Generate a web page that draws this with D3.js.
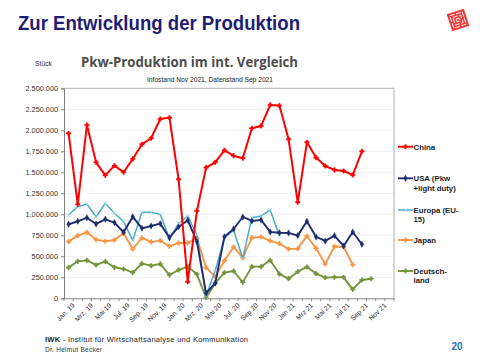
<!DOCTYPE html>
<html><head><meta charset="utf-8">
<script src="https://cdn.jsdelivr.net/npm/d3@7"></script>
<style>html,body{margin:0;padding:0;background:#fff;}svg{display:block;font-family:"Liberation Sans",Arial,sans-serif;}</style>
</head><body>
<svg id="c" width="480" height="360"></svg>
<script>
const months = ["Jan. 19","Feb. 19","Mrz. 19","Apr. 19","Mai 19","Jun. 19","Jul. 19","Aug. 19","Sep. 19","Okt. 19","Nov. 19","Dez. 19",
"Jan. 20","Feb. 20","Mrz. 20","Apr. 20","Mai 20","Jun. 20","Jul. 20","Aug. 20","Sep 20","Okt 20","Nov 20","Dez 20",
"Jan 21","Feb 21","Mrz 21","Apr 21","Mai 21","Jun 21","Jul 21","Aug 21","Sep 21","Okt 21","Nov 21","Dez 21"];
const yTicks = [0,250000,500000,750000,1000000,1250000,1500000,1750000,2000000,2250000,2500000];
const china = [1964,1119,2063,1619,1464,1579,1500,1659,1833,1905,2135,2151,1417,198,1040,1556,1619,1762,1698,1667,2024,2052,2302,2294,1893,1143,1857,1675,1575,1528,1516,1468,1750];
const usa = [881,917,960,885,940,901,786,972,833,861,889,722,850,930,675,60,180,734,825,968,921,933,790,781,778,746,917,730,683,746,623,789,643];
const europa = [992,1091,1123,968,1131,1012,913,690,1024,1024,1000,714,893,980,754,30,330,714,813,476,960,980,1052,742];
const japan = [675,746,786,698,679,694,774,587,718,671,687,619,659,659,718,365,258,448,611,484,722,730,683,651,587,591,742,595,409,617,614,400];
const deutschland = [365,440,452,397,437,369,349,306,413,389,409,278,337,377,286,10,180,306,325,190,377,377,452,290,234,317,373,294,246,250,250,107,218,233];
const seriesNames = [["China"],["USA (Pkw","+light duty)"],["Europa (EU-","15)"],["Japan"],["Deutsch-","land"]];
const seriesColors = ["#ff0000","#1f2d6e","#4bacc6","#f79646","#77933c"];

const series = [china,usa,europa,japan,deutschland].map((arr,k)=>({
  name: seriesNames[k], color: seriesColors[k],
  values: months.map((m,i)=> i<arr.length ? arr[i]*1000 : null)
}));

const svg = d3.select("#c");
const L=64,R=394,T=88.3,B=298.3;
const x = d3.scaleBand().domain(months).range([L,R]).padding(0);
const y = d3.scaleLinear().domain([0,2500000]).range([B,T]);
const de = d3.formatLocale({decimal:",",thousands:".",grouping:[3],currency:["","€"]});
const fmt = de.format(",");

// Titles
svg.append("text").attr("x",18).attr("y",30).attr("font-size",19.5).attr("font-weight","bold")
  .attr("fill","#1d1d74").attr("textLength",282).attr("lengthAdjust","spacingAndGlyphs")
  .text("Zur Entwicklung der Produktion");

// logo
const lg = svg.append("g").attr("transform","translate(458,20) rotate(-18)");
lg.append("rect").attr("x",-9).attr("y",-9).attr("width",18).attr("height",18).attr("fill","#ee3b3b");
[6.5,4,1.5].forEach(s=>lg.append("rect").attr("x",-s).attr("y",-s).attr("width",2*s).attr("height",2*s)
  .attr("fill","none").attr("stroke","#fff").attr("stroke-width",0.9).attr("stroke-dasharray","5 1.5"));

svg.append("text").attr("x",35).attr("y",66).attr("font-size",6.8).attr("fill","#333").text("Stück");
svg.append("text").attr("x",81).attr("y",67).attr("font-size",14.5).attr("font-weight","bold").attr("fill","#4d4d4d")
  .attr("font-family","'Open Sans',sans-serif").attr("textLength",217).attr("lengthAdjust","spacingAndGlyphs")
  .text("Pkw-Produktion im int. Vergleich");
svg.append("text").attr("x",147).attr("y",82.3).attr("font-size",6.8).attr("fill","#222")
  .attr("textLength",126).attr("lengthAdjust","spacingAndGlyphs")
  .text("Infostand Nov 2021, Datenstand Sep 2021");

// gridlines
svg.append("g").selectAll("line").data(yTicks.slice(1,-1)).join("line")
  .attr("x1",L).attr("x2",R).attr("y1",d=>y(d)).attr("y2",d=>y(d))
  .attr("stroke","#ececec").attr("stroke-width",0.8);
// frame top/right
svg.append("path").attr("d",`M${L},${T}H${R}V${B}`).attr("fill","none").attr("stroke","#b0b0b0").attr("stroke-width",1);

// y axis
const ya = svg.append("g").attr("transform",`translate(${L},0)`)
  .call(d3.axisLeft(y).tickValues(yTicks).tickFormat(fmt).tickSize(3).tickPadding(3));
ya.select(".domain").attr("stroke","#808080");
ya.selectAll(".tick line").attr("stroke","#808080");
ya.selectAll("text").attr("font-size",7.3).attr("fill","#333").attr("font-family","'Liberation Sans',Arial,sans-serif");

// x axis
const xa = svg.append("g").attr("transform",`translate(0,${B})`)
  .call(d3.axisBottom(x).tickValues(months.filter((m,i)=>i%2===0)).tickSize(0).tickPadding(3));
xa.select(".domain").attr("stroke","#808080");
xa.selectAll("text").attr("font-size",6.8).attr("fill","#333").attr("font-family","'Liberation Sans',Arial,sans-serif")
  .attr("text-anchor","end").attr("dy","0.3em").attr("transform","translate(3,4) rotate(-45)");
// tick marks at category boundaries
svg.append("g").selectAll("line").data(months.concat([null])).join("line")
  .attr("x1",(d,i)=>L+i*x.bandwidth()).attr("x2",(d,i)=>L+i*x.bandwidth())
  .attr("y1",B).attr("y2",B+3).attr("stroke","#808080").attr("stroke-width",0.8);

const line = d3.line().defined(d=>d.v!=null).x(d=>x(d.m)+x.bandwidth()/2).y(d=>y(d.v));
const symTypes = [d3.symbolCross,d3.symbolDiamond,d3.symbolTimes,d3.symbolCross,d3.symbolCross];
const lineW = [2,1.9,1.5,1.9,1.9];

// draw in reverse order so China is on top
[4,3,2,1,0].forEach(k=>{
  const s = series[k];
  const pts = s.values.map((v,i)=>({m:months[i],v}));
  const g = svg.append("g");
  g.append("path").datum(pts).attr("d",line).attr("fill","none").attr("stroke",s.color)
    .attr("stroke-width",lineW[k]).attr("stroke-linejoin","round");
  const sym = d3.symbol().type(symTypes[k]).size(k===2?14:12);
  g.selectAll("path.m").data(pts.filter(d=>d.v!=null)).join("path").attr("class","m")
    .attr("d",sym).attr("transform",d=>`translate(${x(d.m)+x.bandwidth()/2},${y(d.v)})`)
    .attr("fill",s.color).attr("stroke",k===2?"#9fd6e6":s.color).attr("stroke-width",k===2?0.8:0.3);
});

// legend
const legY = [146.7,178.3,210,240,271];
series.forEach((s,k)=>{
  const g = svg.append("g");
  g.append("line").attr("x1",398).attr("x2",413).attr("y1",legY[k]).attr("y2",legY[k])
    .attr("stroke",s.color).attr("stroke-width",lineW[k]);
  g.append("path").attr("d",d3.symbol().type(symTypes[k]).size(k===2?14:12)).attr("transform",`translate(405.5,${legY[k]})`)
    .attr("fill",s.color).attr("stroke",k===2?"#9fd6e6":s.color).attr("stroke-width",k===2?0.8:0.3);
  s.name.forEach((t,j)=>g.append("text").attr("x",413.5).attr("y",legY[k]+2.8+j*9.6)
    .attr("font-size",7.8).attr("font-weight","bold").attr("fill","#222").text(t));
});

// footer
const f = svg.append("text").attr("x",45).attr("y",342.3).attr("font-size",7.5).attr("fill","#222")
  .attr("textLength",203).attr("lengthAdjust","spacing");
f.append("tspan").attr("font-weight","bold").text("IWK");
f.append("tspan").text(" - Institut für Wirtschaftsanalyse und Kommunikation");
svg.append("text").attr("x",45).attr("y",351.7).attr("font-size",6.5).attr("fill","#333")
  .attr("textLength",57).attr("lengthAdjust","spacing").text("Dr. Helmut Becker");
svg.append("text").attr("x",451.5).attr("y",349.5).attr("font-size",10).attr("font-weight","bold").attr("fill","#2a6db5").text("20");
</script>
</body></html>
